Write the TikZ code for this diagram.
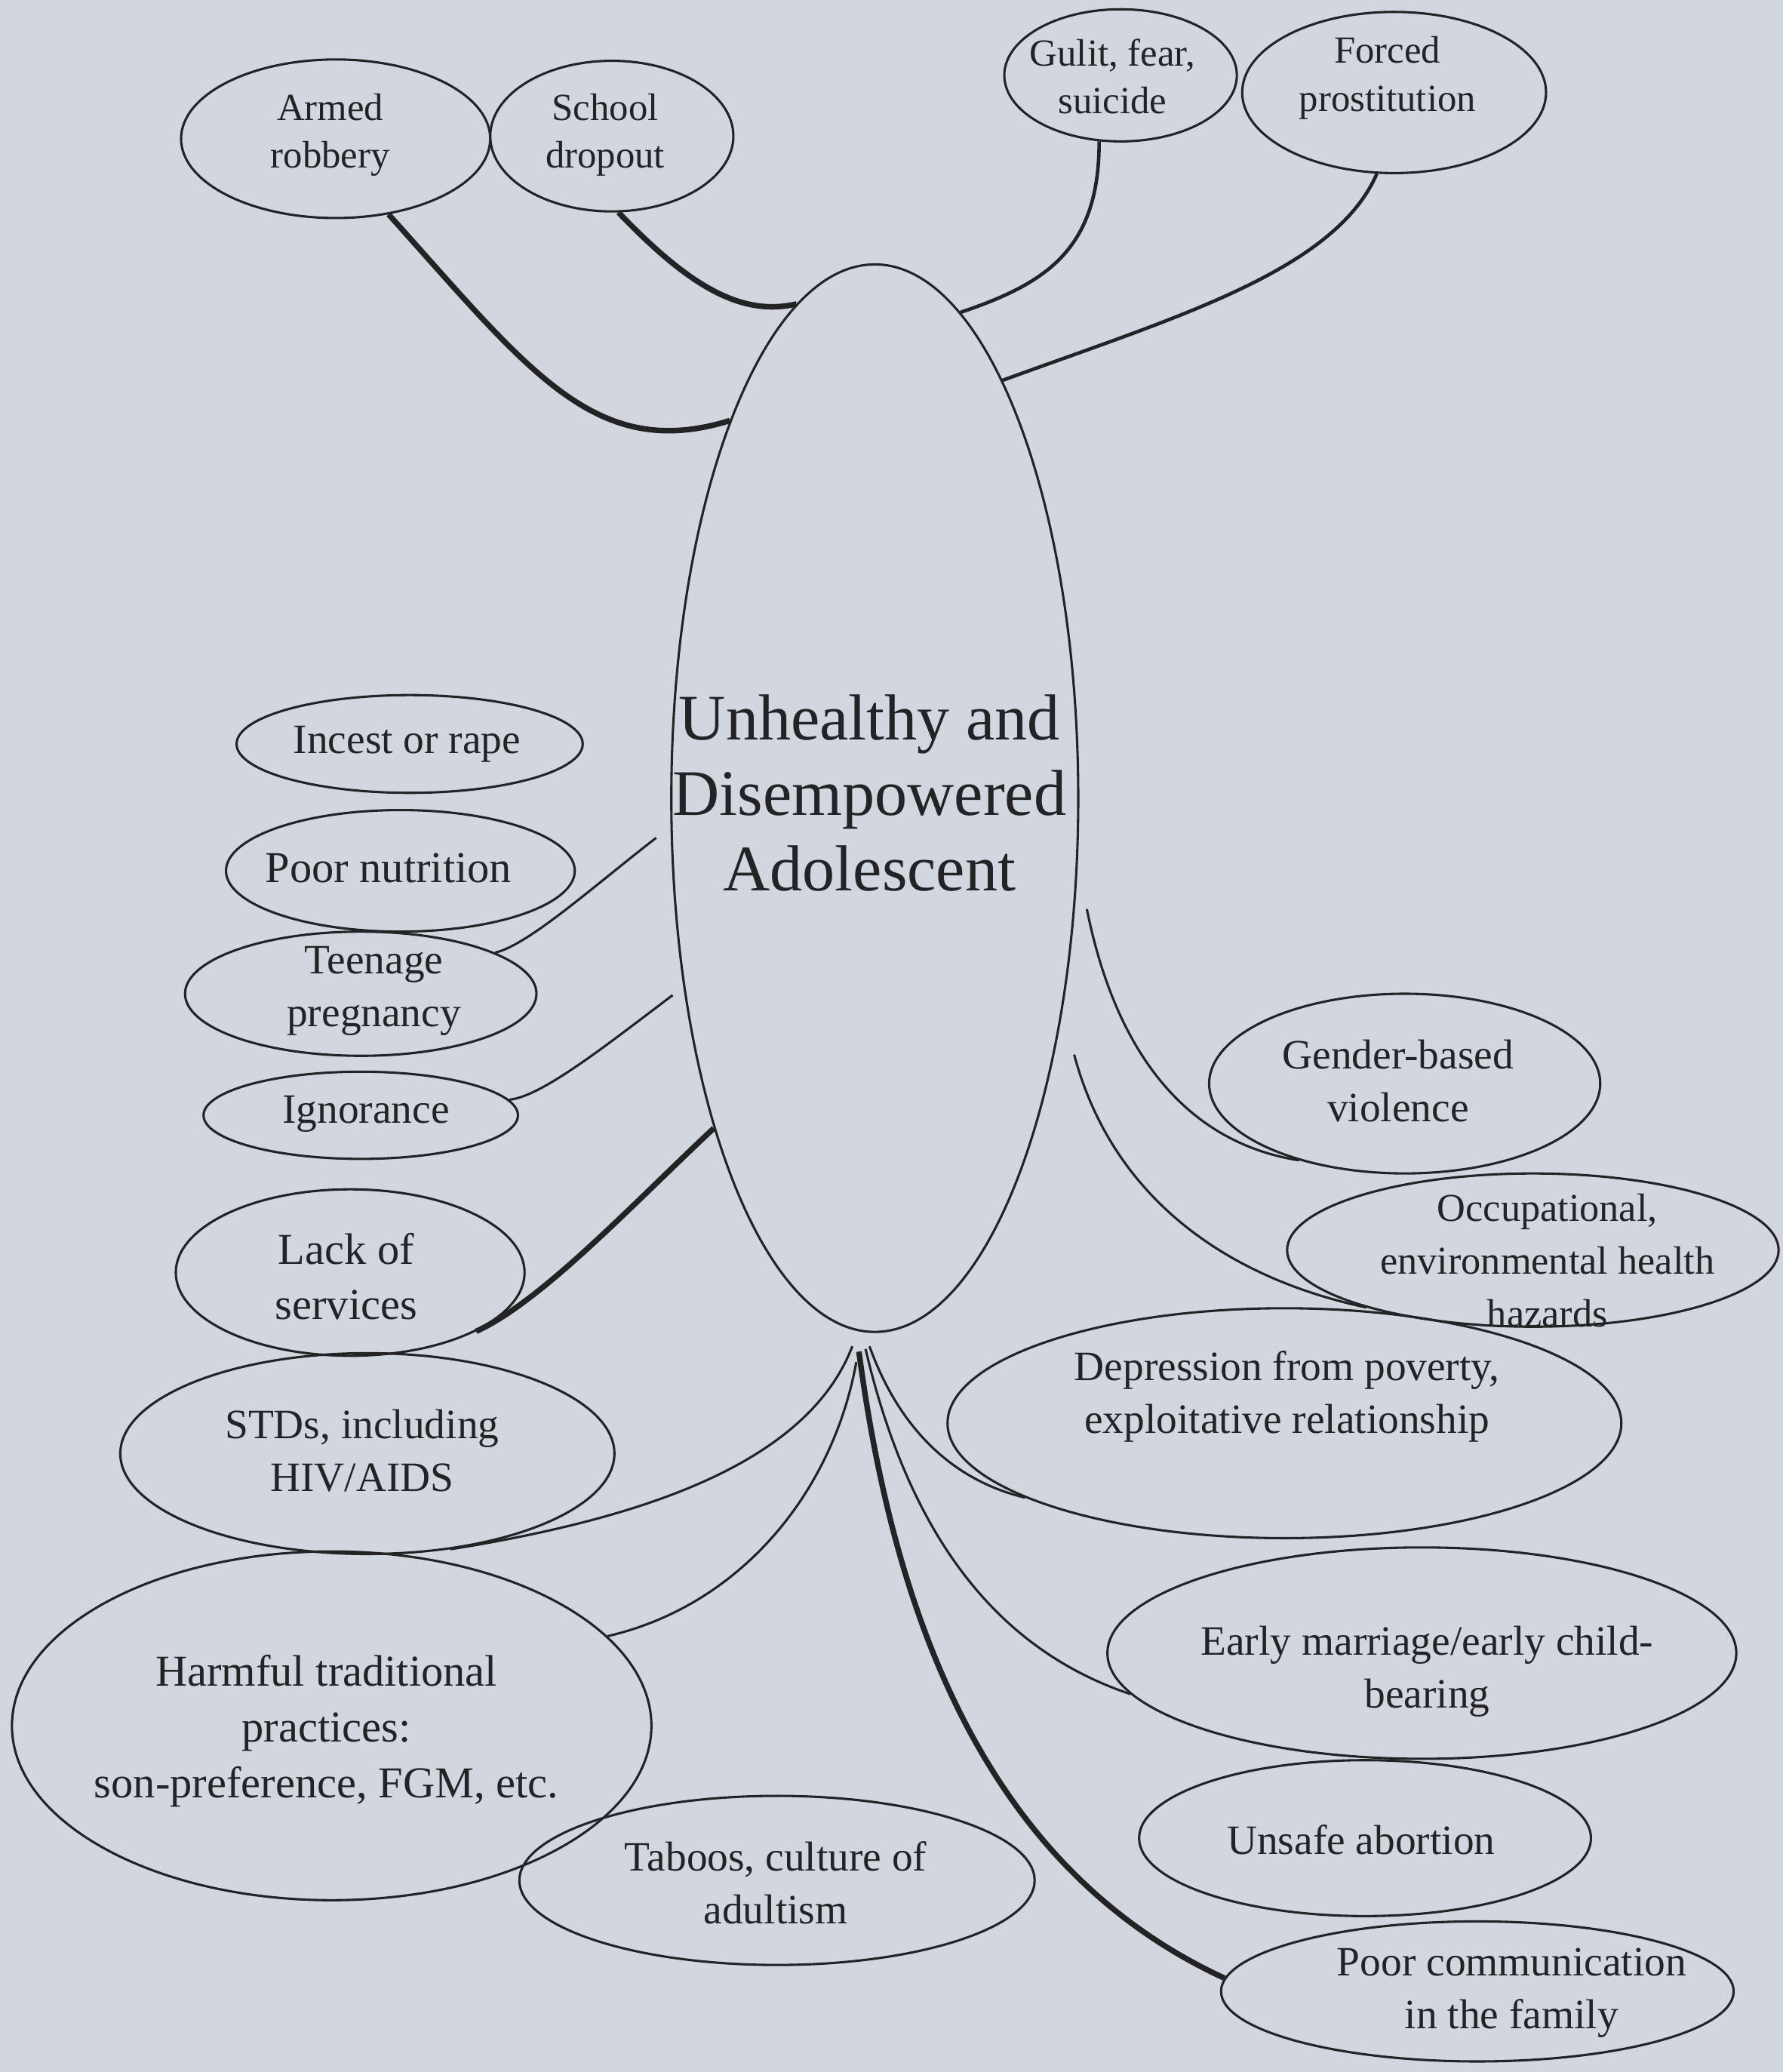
\documentclass[tikz,border=0pt]{standalone}
\usepackage{fontspec}
\setmainfont{Liberation Serif}
\usepackage{tikz}
\usetikzlibrary{calc, shapes.geometric}

\definecolor{paper}{RGB}{210,215,223}
\definecolor{ink}{RGB}{35,35,38}

\begin{document}
\begin{tikzpicture}[x=0.02cm, y=-0.02cm,
        bubble/.style={ellipse, draw=ink, line width=1pt, inner sep=0pt},
        txt/.style={align=center, text=ink, inner sep=0pt, font=\fontsize{18}{22.8}\selectfont},
        smalltxt/.style={txt, font=\fontsize{16.5}{20.5}\selectfont},
        bigtxt/.style={txt, font=\fontsize{19}{24}\selectfont},
        link/.style={draw=ink, line width=1pt},
        medlink/.style={draw=ink, line width=1.5pt},
        heavylink/.style={draw=ink, line width=2.4pt}]
        \useasboundingbox (0,0) rectangle (1349,1568);
        \fill[paper] (0,0) rectangle (1349,1568);

        % centre
        \node[bubble, minimum width=6.16cm, minimum height=16.16cm] (main) at (662,604) {};
        \node[txt, font=\fontsize{28}{32.5}\selectfont] (main-t) at (658,600) {Unhealthy and\\Disempowered\\Adolescent};

        % top
        \node[bubble, minimum width=4.68cm, minimum height=2.40cm] (armed) at (254,105) {};
        \node[smalltxt] (armed-t) at (250,102) {Armed\\robbery};
        \node[bubble, minimum width=3.68cm, minimum height=2.28cm] (school) at (463,103) {};
        \node[smalltxt] (school-t) at (458,102) {School\\dropout};
        \node[bubble, minimum width=3.52cm, minimum height=2.00cm] (gulit) at (848,57) {};
        \node[smalltxt] (gulit-t) at (842,58) {Gulit, fear,\\suicide};
        \node[bubble, minimum width=4.60cm, minimum height=2.44cm] (forced) at (1055,70) {};
        \node[smalltxt] (forced-t) at (1050,59) {Forced\\prostitution};

        % left
        \node[bubble, minimum width=5.24cm, minimum height=1.48cm] (incest) at (310,563) {};
        \node[txt] (incest-t) at (308,563) {Incest or rape};
        \node[bubble, minimum width=5.28cm, minimum height=1.84cm] (nutri) at (303,659) {};
        \node[bigtxt] (nutri-t) at (294,657) {Poor nutrition};
        \node[bubble, minimum width=5.32cm, minimum height=1.88cm] (teen) at (273,752) {};
        \node[txt] (teen-t) at (283,750) {Teenage\\pregnancy};
        \node[bubble, minimum width=4.76cm, minimum height=1.32cm] (ignor) at (273,844) {};
        \node[txt] (ignor-t) at (277,843) {Ignorance};
        \node[bubble, minimum width=5.28cm, minimum height=2.52cm] (lack) at (265,963) {};
        \node[bigtxt] (lack-t) at (262,966) {Lack of\\services};
        \node[bubble, minimum width=7.48cm, minimum height=3.04cm] (stds) at (278,1100) {};
        \node[txt] (stds-t) at (274,1098) {STDs, including\\HIV/AIDS};
        \node[bubble, minimum width=9.68cm, minimum height=5.28cm] (harm) at (251,1306) {};
        \node[bigtxt] (harm-t) at (247,1310) {Harmful traditional\\practices:\\son-preference, FGM, etc.};
        \node[bubble, minimum width=7.80cm, minimum height=2.56cm] (taboo) at (588,1423) {};
        \node[txt] (taboo-t) at (587,1425) {Taboos, culture of\\adultism};

        % right
        \node[bubble, minimum width=5.92cm, minimum height=2.72cm] (gender) at (1063,820) {};
        \node[txt] (gender-t) at (1058,818) {Gender-based\\violence};
        \node[bubble, minimum width=7.44cm, minimum height=2.32cm] (occup) at (1160,946) {};
        \node[txt, font=\fontsize{17}{22.8}\selectfont] (occup-t) at (1171,954) {Occupational,\\environmental health\\hazards};
        \node[bubble, minimum width=10.20cm, minimum height=3.48cm] (depr) at (972,1077) {};
        \node[txt] (depr-t) at (974,1057) {Depression from poverty,\\exploitative relationship};
        \node[bubble, minimum width=9.52cm, minimum height=3.20cm] (early) at (1076,1251) {};
        \node[txt] (early-t) at (1080,1265) {Early marriage/early child-\\bearing};
        \node[bubble, minimum width=6.84cm, minimum height=2.36cm] (unsafe) at (1033,1391) {};
        \node[txt] (unsafe-t) at (1030,1392) {Unsafe abortion};
        \node[bubble, minimum width=7.76cm, minimum height=2.12cm] (comm) at (1118,1507) {};
        \node[txt] (comm-t) at (1144,1508) {Poor communication\\in the family};

        % links, top
        \draw[heavylink] (armed.-55) .. controls (400,280) and (450,350) .. (main.111);
        \draw[heavylink] (school.-85) .. controls (520,215) and (560,240) .. (main.99);
        \draw[medlink] (gulit.-108) .. controls (832,190) and (790,215) .. (main.80);
        \draw[medlink] (forced.-102) .. controls (1010,205) and (890,240) .. (main.73);

        % links, left
        \draw[link] ($(main.191)+(-11,0)$) .. controls (450,670) and (400,715) .. (teen.17);
        \draw[link] ($(main.226)+(-9,0)$) .. controls (460,790) and (410,830) .. (ignor.6);
        \draw[heavylink] (main.244) .. controls (480,910) and (410,985) .. (lack.-25);

        % links, bottom
        \draw[link] ($(main.south)+(-17,10)$) .. controls (610,1110) and (480,1150) .. (stds.-49);
        \draw[link] ($(main.south)+(-14,22)$) .. controls (630,1130) and (560,1215) .. (harm.18);
        \draw[heavylink] ($(main.south)+(-12,14)$) .. controls (680,1250) and (760,1420) .. (comm.177);
        \draw[link] ($(main.south)+(-7,12)$) .. controls (690,1170) and (760,1250) .. (early.188);
        \draw[link] ($(main.south)+(-4,10)$) .. controls (680,1080) and (720,1120) .. (depr.196);

        % links, right
        \draw[link] ($(main.331)+(9,0)$) .. controls (845,800) and (900,865) .. (gender.216);
        \draw[link] ($(main.305)+(15,0)$) .. controls (840,900) and (920,965) .. (occup.199);
\end{tikzpicture}
\end{document}
